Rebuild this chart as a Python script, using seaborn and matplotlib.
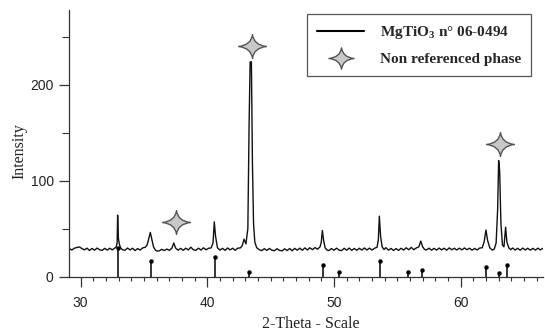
import numpy as np
import matplotlib
matplotlib.use("Agg")
from matplotlib import pyplot as plt
from matplotlib.path import Path
from matplotlib.lines import Line2D
import seaborn as sns

##### XRD pattern (2-theta, intensity)
two_theta = [29.1, 29.3, 29.5, 29.7, 29.9, 30.1, 30.3, 30.5, 30.7, 30.9, 31.1, 31.3, 31.5, 31.7, 31.9, 32.1, 32.3, 32.5, 32.7,
             32.8, 32.88, 32.92, 32.98, 33.05, 33.15, 33.3,
             33.5, 33.7, 33.9, 34.1, 34.3, 34.5, 34.7, 34.9, 35.1,
             35.25, 35.4, 35.5, 35.6, 35.75, 35.9, 36.05,
             36.2, 36.4, 36.6, 36.8, 37.0, 37.2, 37.35, 37.5, 37.7, 37.9, 38.1, 38.3, 38.5, 38.7, 38.9, 39.1, 39.3, 39.5, 39.7, 39.9, 40.1, 40.3,
             40.45, 40.55, 40.65, 40.8, 41.0,
             41.2, 41.4, 41.6, 41.8, 42.0, 42.2, 42.4, 42.6, 42.75, 42.9, 43.05, 43.2, 43.3, 43.38, 43.48, 43.56, 43.65, 43.75, 43.9, 44.1,
             44.3, 44.5, 44.7, 44.9, 45.1, 45.3, 45.5, 45.7, 45.9, 46.1, 46.3, 46.5, 46.7, 46.9, 47.1, 47.3, 47.5, 47.7, 47.9, 48.1, 48.3, 48.5, 48.7, 48.9,
             49.0, 49.08, 49.18, 49.3, 49.45,
             49.6, 49.8, 50.0, 50.2, 50.4, 50.6, 50.8, 51.0, 51.2, 51.4, 51.6, 51.8, 52.0, 52.2, 52.4, 52.6, 52.8, 53.0, 53.2, 53.4,
             53.5, 53.58, 53.68, 53.8, 53.95, 54.1,
             54.3, 54.5, 54.7, 54.9, 55.1, 55.3, 55.5, 55.7, 55.9, 56.1, 56.3, 56.5, 56.7, 56.85, 57.0, 57.15,
             57.3, 57.5, 57.7, 57.9, 58.1, 58.3, 58.5, 58.7, 58.9, 59.1, 59.3, 59.5, 59.7, 59.9, 60.1, 60.3, 60.5, 60.7, 60.9, 61.1, 61.3, 61.5, 61.7,
             61.85, 62.0, 62.12, 62.3, 62.5, 62.65, 62.8, 62.92, 63.0, 63.08, 63.18, 63.3, 63.42, 63.55, 63.65, 63.8, 63.95,
             64.1, 64.3, 64.5, 64.7, 64.9, 65.1, 65.3, 65.5, 65.7, 65.9, 66.1, 66.3, 66.5]
intensity = [29.4, 27.6, 29.5, 30.3, 30.9, 29.2, 27.8, 29.6, 27.2, 29.3, 27.5, 29.7, 27.9, 27.3, 29.4, 27.6, 29.5, 27.8, 29.8,
             30.5, 35, 64, 40, 34, 30, 28.0,
             27.4, 29.7, 27.8, 29.5, 27.1, 29.2, 27.6, 29.9, 30.5,
             33, 41, 46, 40, 31, 27.5, 26.5,
             26.8, 28.4, 27.1, 28.6, 27.3, 29.5, 35, 29.6, 27.5, 29.4, 27.3, 29.6, 27.7, 30.6, 27.9, 27.4, 29.6, 27.6, 30.0, 27.9, 29.5, 29.8,
             35, 57, 42, 30, 27.6,
             29.4, 27.3, 29.8, 27.8, 29.5, 27.4, 29.6, 29.8, 32, 39, 34, 50, 160, 224, 224, 120, 55, 36, 30, 28.0,
             27.0, 29.1, 27.2, 29.3, 27.5, 26.9, 29.0, 27.3, 26.8, 28.9, 27.1, 29.2, 26.9, 29.4, 27.5, 29.6, 27.4, 29.9, 27.7, 30.0, 28.0, 30.2, 28.5, 31,
             36, 48, 38, 30, 27.6,
             27.1, 29.2, 27.4, 29.6, 27.6, 27.0, 29.4, 27.5, 29.7, 27.3, 29.3, 27.4, 29.5, 27.6, 29.8, 27.7, 29.6, 27.6, 29.5, 30.5,
             38, 63, 42, 31, 28.2, 30.1,
             27.5, 29.3, 27.2, 29.1, 27.3, 29.5, 27.6, 30.0, 27.9, 30.4, 28.0, 29.8, 31, 37, 31, 28.3,
             27.7, 29.6, 27.5, 29.4, 27.6, 29.7, 27.8, 29.5, 27.5, 29.9, 27.9, 29.5, 27.7, 29.6, 27.8, 29.8, 28.0, 29.5, 27.5, 29.3, 27.7, 29.7, 30.0,
             36, 48.5, 38, 30, 27.6, 28.5, 35, 70, 121, 110, 55, 33, 31, 51.5, 36, 30, 28.0,
             29.8, 27.6, 29.5, 27.4, 29.7, 27.7, 29.5, 27.5, 29.4, 27.6, 29.6, 27.8, 29.4]

##### MgTiO3 reference card 06-0494 (stick positions / heights)
stick_x = [32.92, 35.55, 40.6, 43.28, 49.1, 50.4, 53.6, 55.86, 56.96, 62.0, 63.05, 63.65]
stick_h = [30, 16.5, 20.5, 5, 12.5, 4.5, 16.5, 4.7, 6.3, 10.3, 4.2, 12.2]

##### Non referenced phase markers
star_x = [37.5, 43.55, 63.07]
star_y = [57, 241, 138.5]

# 4-point star with concave sides
star = Path([(0, 0.85), (0.1, 0.1), (1, 0), (0.1, -0.1), (0, -0.85), (-0.1, -0.1), (-1, 0), (-0.1, 0.1), (0, 0.85), (0, 0.85)],
            [Path.MOVETO] + [Path.CURVE3] * 8 + [Path.CLOSEPOLY])

sns.set_style("ticks")
plt.rcParams['font.family'] = ['Liberation Sans', 'DejaVu Sans']
plt.rcParams['mathtext.fontset'] = 'custom'
plt.rcParams['mathtext.rm'] = 'Liberation Serif:bold'
plt.rcParams['mathtext.bf'] = 'Liberation Serif:bold'

fig = plt.figure(figsize=(5.45, 3.36), dpi=100)
ax = fig.add_axes([0.1266, 0.177, 0.8697, 0.793])

sns.lineplot(x=two_theta, y=intensity, ax=ax, color='#111111', lw=1.0, sort=False, estimator=None)
ax.vlines(stick_x, 0, stick_h, color='black', lw=1.1)
ax.plot(stick_x, stick_h, ls='none', marker='o', ms=2.2, color='black')
ax.plot(star_x, star_y, ls='none', marker=star, ms=20, mfc='#c8c8c8', mec='#555555', mew=1)

ax.set_xlim(29.08, 66.5)
ax.set_ylim(0, 278)
ax.set_xticks([30, 40, 50, 60])
ax.set_xticks(np.arange(30, 67, 1), minor=True)
ax.set_yticks([0, 100, 200])
ax.set_yticks([50, 150, 250], minor=True)

for s in ['top', 'right']:
    ax.spines[s].set_visible(False)
for s in ['left', 'bottom']:
    ax.spines[s].set_color('#333333')
    ax.spines[s].set_linewidth(0.9)

ax.tick_params(axis='x', which='major', length=7, width=0.9, color='#333333', labelsize=10, labelcolor='#222222', pad=7)
ax.tick_params(axis='x', which='minor', length=3, width=0.8, color='#333333')
ax.tick_params(axis='y', which='major', length=7, width=0.9, color='#333333', labelsize=10, labelcolor='#222222', pad=4)
ax.tick_params(axis='y', which='minor', length=5, width=0.8, color='#333333')

ax.set_xlabel('2-Theta - Scale', family='Liberation Serif', fontsize=11.5, color='#222222')
ax.set_ylabel('Intensity', family='Liberation Serif', fontsize=11.5, color='#222222')
ax.xaxis.set_label_coords(0.51, -0.148)
ax.yaxis.set_label_coords(-0.087, 0.47)

handles = [Line2D([], [], color='black', lw=1.5),
           Line2D([], [], ls='none', marker=star, ms=18, mfc='#c8c8c8', mec='#555555', mew=1)]
labels = ['MgTiO$_3$ n° 06-0494', 'Non referenced phase']
leg = ax.legend(handles, labels, loc='upper left', bbox_to_anchor=(0.502, 0.985), borderaxespad=0,
                frameon=True, fancybox=False, edgecolor='#555555', framealpha=1,
                prop={'family': 'Liberation Serif', 'weight': 'bold', 'size': 11},
                handlelength=3.1, handletextpad=1.0, labelspacing=0.75, borderpad=0.65)
leg.get_frame().set_linewidth(0.9)

plt.savefig('out.png', dpi=100)
